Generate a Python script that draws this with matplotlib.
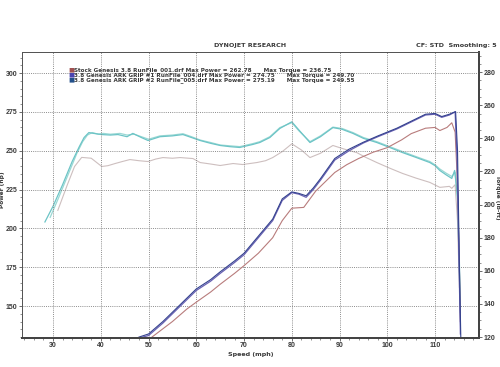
import matplotlib
matplotlib.use("Agg")
import matplotlib.pyplot as plt
from matplotlib.ticker import MultipleLocator

# Curvas de potencia (hp) - eje izquierdo
vel_pot_stock = [50.5, 52, 55, 58, 60, 63, 65, 68, 70, 73, 76, 78, 80, 82.5, 85, 87, 89, 91.5, 94, 97,
                 100, 103, 105, 108, 110, 111, 112.5, 113.5, 114.2, 114.6, 115.0, 115.3]
pot_stock = [129.5, 133, 140, 148, 152.5, 159, 164, 171, 176, 184, 194, 205, 213, 213.5, 224, 230, 236, 241,
             245, 249, 252, 257, 261, 264.5, 265, 263, 265, 268, 262, 235, 190, 140]

vel_pot_ark1 = [48.2, 50, 53, 55, 58, 60, 63, 65, 68, 70, 73, 76, 78, 80, 81.5, 83, 84.5, 86, 89, 92, 95,
                98, 102, 106, 108, 110, 111.4, 113, 114.2, 114.6, 115.0, 115.3]
pot_ark1 = [129.5, 131, 139, 145, 154, 160, 166, 171, 178, 183, 194, 205, 218, 223, 222, 220, 225, 231, 244,
            250, 255, 259, 264, 270, 273, 273.5, 271.5, 273, 275, 245, 180, 132]

vel_pot_ark2 = [48.0, 50, 53, 55, 58, 60, 63, 65, 68, 70, 73, 76, 78, 80, 81.5, 83, 84.5, 86, 89, 92, 95,
                98, 102, 106, 108, 110, 111.4, 113, 114.3, 114.7, 115.1, 115.4]
pot_ark2 = [130, 132, 140, 146, 155, 161, 167, 172, 179, 184, 195, 206, 219, 223.5, 222.5, 221, 226, 232, 245,
            251, 255.5, 259.5, 264.5, 270.5, 273.5, 274, 272, 273.5, 275.2, 250, 175, 128]

# Curvas de torque (lb-ft) - eje derecho
vel_tq_stock = [31.0, 33, 34.5, 36, 38, 40.2, 41.5, 43, 44.5, 46.1, 48, 49.9, 51.5, 53, 55, 56.6, 59.3, 60.8,
                63, 65, 67.7, 69.7, 72.7, 74.5, 76, 78, 80, 82, 83.8, 86, 88.6, 91, 93.6, 95.5, 97.8, 100.5,
                103.2, 106, 108.9, 111, 113, 113.5, 114.2, 114.7, 115.1]
tq_stock = [196.5, 212, 223, 228.5, 228, 223, 223.5, 224.8, 226, 227.2, 226.5, 226, 227.5, 228.4, 228, 228.4,
            227.8, 225.4, 224.5, 223.6, 224.8, 224.2, 225.4, 226.5, 228.4, 232, 236.7, 233, 228.4, 231, 235.7,
            233.5, 231.4, 228.5, 225.4, 222, 218.8, 216, 213.4, 210.4, 211, 209.8, 212, 190, 150]

vel_tq_ark1 = [28.3, 30, 32, 34, 35.5, 36.5, 37.5, 38.5, 40.2, 42, 43.6, 45.5, 46.7, 48.5, 49.9, 52.4, 55,
               57.2, 59, 60.8, 63, 65, 67, 69.1, 71.8, 73.3, 75.4, 77.5, 80, 81.5, 83.8, 86, 88.6, 90.5, 92.8,
               95, 97.8, 100.5, 103.2, 106, 108.9, 110, 111, 112.3, 113.5, 114.1, 114.7, 115.0, 115.3]
tq_ark1 = [189.5, 199, 212, 226, 235, 240.5, 243.5, 243, 242.3, 242, 242.3, 241, 243, 240.5, 238.7, 241,
           241.5, 242.3, 240.5, 238.7, 237, 235.7, 235, 234.5, 236.3, 237.5, 240.5, 246, 250, 245, 237.5,
           241, 246.5, 245.5, 243, 240, 237.5, 234.5, 231.4, 228.5, 225.4, 223.5, 220.6, 218, 215.8, 220.6,
           205, 170, 135]

vel_tq_ark2 = [29.4, 31, 33, 35, 36.2, 37.2, 38.2, 39.5, 40.5, 42, 44, 45.5, 47, 48.5, 50, 52.4, 55, 57.2,
               59, 60.8, 63, 65, 67, 69.1, 71.8, 73.3, 75.4, 77.5, 80, 81.5, 83.8, 86, 88.6, 90.5, 92.8, 95,
               97.8, 100.5, 103.2, 106, 108.9, 110, 111, 112.3, 113.5, 114.2, 114.8, 115.1, 115.3]
tq_ark2 = [192.3, 203, 217, 231, 238, 242, 243.5, 242.5, 243, 242.5, 243, 242, 242.5, 241, 239.5, 241.5,
           242, 242.8, 241, 239, 237.5, 236, 235.5, 235, 236.8, 238, 241, 246.5, 249.5, 244.5, 238, 241.5,
           246.8, 246, 243.5, 240.5, 238, 235, 232, 229, 226, 224, 221.5, 219, 217, 219.5, 200, 165, 140]

vel_ticks = [30, 40, 50, 60, 70, 80, 90, 100, 110]
pot_ticks = [150, 175, 200, 225, 250, 275, 300]
tq_ticks = [120, 140, 160, 180, 200, 220, 240, 260, 280]

leyenda = ["Stock Genesis 3.8 RunFile_001.drf Max Power = 262.78      Max Torque = 236.75",
           "3.8 Genesis ARK GRIP #1 RunFile_004.drf Max Power = 274.75      Max Torque = 249.70",
           "3.8 Genesis ARK GRIP #2 RunFile_005.drf Max Power = 275.19      Max Torque = 249.55"]
colores_ley = ["#a05050", "#4a44b0", "#23508a"]

txt = "#3a3a3a"
fig = plt.figure(figsize=(5, 3.67), dpi=100)
ax = fig.add_axes([0.044, 0.079, 0.914, 0.779])
ax2 = ax.twinx()
# potencia por encima del torque
ax.set_zorder(ax2.get_zorder() + 1)
ax.patch.set_visible(False)

ax2.plot(vel_tq_stock, tq_stock, color="#cdbfbf", lw=0.8)
ax2.plot(vel_tq_ark2, tq_ark2, color="#9ad8d4", lw=0.9)
ax2.plot(vel_tq_ark1, tq_ark1, color="#6cc4c6", lw=0.9)

ax.plot(vel_pot_stock, pot_stock, color="#b87c7c", lw=0.8)
ax.plot(vel_pot_ark1, pot_ark1, color="#6a62b4", lw=0.9)
ax.plot(vel_pot_ark2, pot_ark2, color="#34428e", lw=0.8)

ax.set_xlim(23.5, 119.2)
ax.set_ylim(129.4, 313.5)
ax2.set_ylim(119.4, 292.1)

ax.set_xticks(vel_ticks)
ax.set_yticks(pot_ticks)
ax2.set_yticks(tq_ticks)
ax.xaxis.set_minor_locator(MultipleLocator(2))
ax.yaxis.set_minor_locator(MultipleLocator(5))
ax2.yaxis.set_minor_locator(MultipleLocator(5))

ax2.grid(False)
ax.grid(True, which="major", color="#8c8c8c", linestyle=(0, (1, 1.2)), lw=0.7)
for a in (ax, ax2):
    a.tick_params(which="major", length=2.2, width=0.6, color="#555", labelsize=5.0, labelcolor=txt, pad=1.0)
    a.tick_params(which="minor", length=1.4, width=0.5, color="#666")
    for lbl in a.get_xticklabels() + a.get_yticklabels():
        lbl.set_fontweight("bold")
        lbl.set_fontfamily("Liberation Sans")
    for s in ["top", "left"]:
        a.spines[s].set_linewidth(0.7)
        a.spines[s].set_color("#555")
    for s in ["bottom", "right"]:
        a.spines[s].set_linewidth(1.4)
        a.spines[s].set_color("#444")

ax.set_xlabel("Speed (mph)", fontsize=4.6, fontweight="bold", color=txt, labelpad=2)
fig.text(2.8 / 500, 1 - 190 / 367, "Power (hp)", rotation=90, ha="center", va="center", fontsize=4.2,
         fontweight="bold", color=txt)
fig.text(497.6 / 500, 1 - 197 / 367, "Torque (lb-ft)", rotation=270, ha="center", va="center", fontsize=4.2,
         fontweight="bold", color=txt)

fig.text(0.5, 1 - 45 / 367, "DYNOJET RESEARCH", ha="center", va="center", fontsize=4.6,
         fontweight="bold", color=txt)
fig.text(0.994, 1 - 45 / 367, "CF: STD  Smoothing: 5", ha="right", va="center", fontsize=4.6,
         fontweight="bold", color=txt)

for i, (linea, c) in enumerate(zip(leyenda, colores_ley)):
    y = 1 - (70 + 4.8 * i) / 367
    fig.text(68 / 500, y, "\u25a0", ha="left", va="center", fontsize=4.6, color=c)
    fig.text(74 / 500, y, linea, ha="left", va="center", fontsize=4.1, fontweight="bold", color=txt)

fig.savefig("out.png", dpi=100)
